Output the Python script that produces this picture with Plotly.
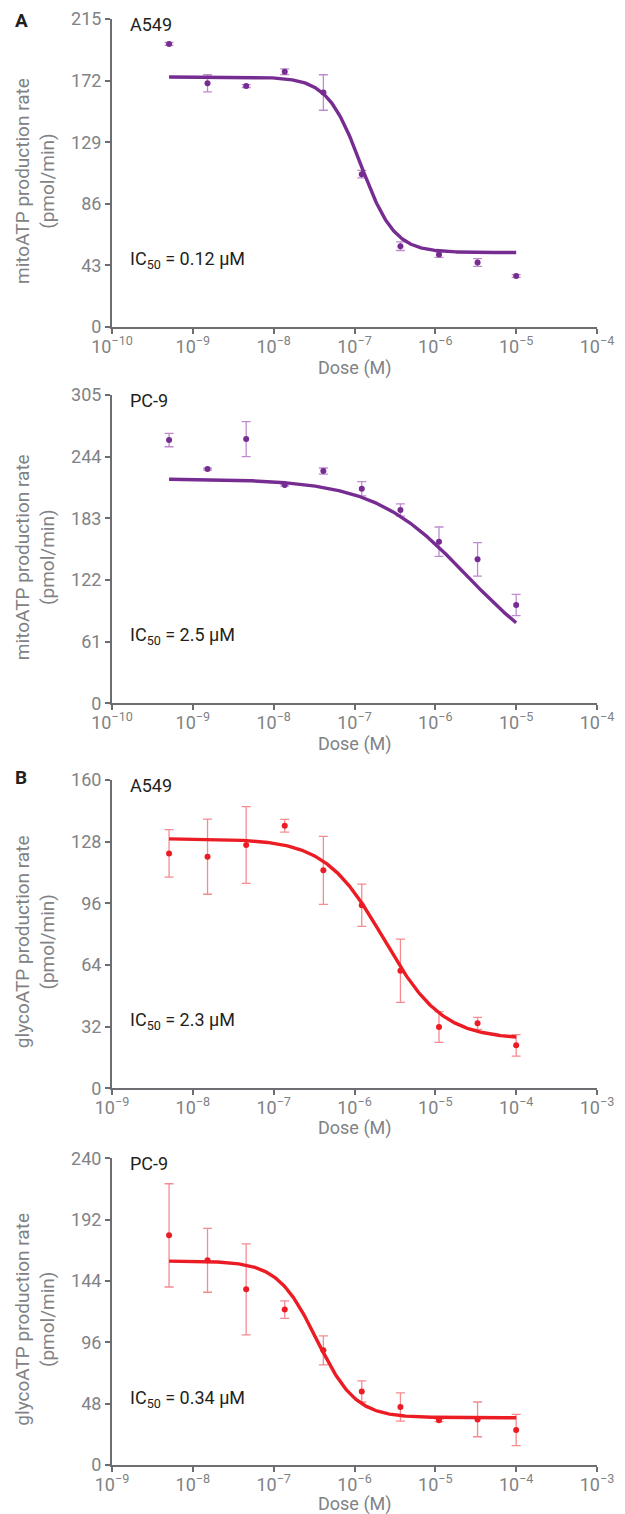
import numpy as np
import plotly.graph_objects as go

W, H = 625, 1514

# ---- data -------------------------------------------------------------
# dose series (M), 3-fold dilutions
dose_mito = [5.08e-10, 1.52e-9, 4.57e-9, 1.37e-8, 4.12e-8,
             1.23e-7, 3.70e-7, 1.11e-6, 3.33e-6, 1.00e-5]
dose_glyco = [5.08e-9, 1.52e-8, 4.57e-8, 1.37e-7, 4.12e-7,
              1.23e-6, 3.70e-6, 1.11e-5, 3.33e-5, 1.00e-4]

# mitoATP production rate (pmol/min), mean and error
mito_a549 = [197.6, 170.1, 168.2, 178.2, 163.7, 106.7, 56.4, 50.6, 45.0, 35.6]
mito_a549_err = [1.0, 6.0, 1.0, 2.0, 12.4, 2.6, 3.0, 2.0, 2.7, 1.0]
mito_pc9 = [260.4, 231.7, 261.4, 215.9, 229.8, 212.3, 191.2, 159.9, 142.4, 97.2]
mito_pc9_err = [6.6, 1.0, 17.3, 1.0, 3.0, 7.0, 6.0, 14.5, 16.6, 10.5]

# glycoATP production rate (pmol/min), mean and error
glyco_a549 = [121.9, 120.2, 126.3, 136.3, 113.1, 95.0, 61.0, 31.8, 33.7, 22.3]
glyco_a549_err = [12.3, 19.5, 19.9, 3.3, 17.6, 11.0, 16.4, 8.0, 3.1, 5.6]
glyco_pc9 = [179.7, 160.2, 137.5, 121.6, 89.7, 57.6, 45.4, 35.0, 35.7, 27.4]
glyco_pc9_err = [40.4, 25.0, 35.6, 6.9, 11.3, 8.3, 11.1, 1.0, 13.6, 12.2]

# four-parameter logistic fit parameters: top, bottom, IC50 (M), Hill slope
fit_top = [174.5, 222.0, 129.5, 159.6]
fit_bottom = [52.0, 29.4, 25.5, 37.0]
fit_ic50 = [0.12e-6, 2.5e-6, 2.3e-6, 0.34e-6]
fit_hill = [2.1, 0.75, 1.2, 1.8]
ic50_labels = ["0.12 μM", "2.5 μM", "2.3 μM", "0.34 μM"]

cell_lines = ["A549", "PC-9", "A549", "PC-9"]
y_titles = ["mitoATP production rate<br>(pmol/min)"] * 2 + \
           ["glycoATP production rate<br>(pmol/min)"] * 2
y_ticks = [[0, 43, 86, 129, 172, 215],
           [0, 61, 122, 183, 244, 305],
           [0, 32, 64, 96, 128, 160],
           [0, 48, 96, 144, 192, 240]]
x_ticks_mito = [-10, -9, -8, -7, -6, -5, -4]
x_ticks_glyco = [-9, -8, -7, -6, -5, -4, -3]

# ---- styling ----------------------------------------------------------
PURPLE = "#762c91"
PURPLE_ERR = "rgba(170, 100, 190, 0.75)"
RED = "#ec1c24"
RED_ERR = "rgba(240, 90, 98, 0.7)"
AXIS = "#6d6e71"
TICKTXT = "#808285"
BLACK = "#231f20"
FONT = "Roboto"

# panel plot areas in pixels (top, bottom) and x-title offsets below each
panel_px = [(19, 327), (395, 703.3), (780, 1088.3), (1158.3, 1465)]
xtitle_gap = [41, 41, 39.5, 38.5]
x_px = (112, 597)


def px_x(p):
    return p / W


def px_y(p):
    return 1 - p / H


def sup_label(e):
    return "10<sup>−%d</sup>" % abs(e)


panels = [
    (dose_mito, mito_a549, mito_a549_err, PURPLE, PURPLE_ERR, x_ticks_mito),
    (dose_mito, mito_pc9, mito_pc9_err, PURPLE, PURPLE_ERR, x_ticks_mito),
    (dose_glyco, glyco_a549, glyco_a549_err, RED, RED_ERR, x_ticks_glyco),
    (dose_glyco, glyco_pc9, glyco_pc9_err, RED, RED_ERR, x_ticks_glyco),
]

fig = go.Figure()
annotations = []
layout_axes = {}

for i, (dose, vals, errs, col, ecol, xt) in enumerate(panels):
    n = "" if i == 0 else str(i + 1)
    xa, ya = "x" + n, "y" + n
    top_px, bot_px = panel_px[i]

    # measured points with error bars
    fig.add_trace(go.Scatter(
        x=dose, y=vals, mode="markers", xaxis=xa, yaxis=ya,
        marker=dict(size=6, color=col),
        error_y=dict(type="data", array=errs, color=ecol,
                     thickness=1.3, width=4.5),
        showlegend=False, hoverinfo="x+y",
    ))

    # fitted dose-response curve
    xs = np.logspace(np.log10(min(dose)), np.log10(max(dose)), 300)
    T, B, C, h = fit_top[i], fit_bottom[i], fit_ic50[i], fit_hill[i]
    ys = B + (T - B) / (1 + (xs / C) ** h)
    fig.add_trace(go.Scatter(
        x=xs, y=ys, mode="lines", xaxis=xa, yaxis=ya,
        line=dict(color=col, width=3.4), showlegend=False, hoverinfo="skip",
    ))

    layout_axes["xaxis" + n] = dict(
        type="log", domain=[px_x(x_px[0]), px_x(x_px[1])],
        range=[xt[0], xt[-1]], anchor=ya,
        tickvals=[10.0 ** e for e in xt], ticktext=[sup_label(e) for e in xt],
        showline=True, linecolor=AXIS, linewidth=2,
        ticks="outside", ticklen=5, tickwidth=1.6, tickcolor=AXIS,
        ticklabelstandoff=-3,
        tickfont=dict(family=FONT, size=18, color=TICKTXT),
        showgrid=False, zeroline=False, automargin=False,
    )
    layout_axes["yaxis" + n] = dict(
        domain=[px_y(bot_px), px_y(top_px)],
        range=[0, y_ticks[i][-1]], anchor=xa,
        tickvals=y_ticks[i],
        showline=True, linecolor=AXIS, linewidth=2,
        ticks="outside", ticklen=5, tickwidth=1.6, tickcolor=AXIS,
        tickfont=dict(family=FONT, size=18, color=TICKTXT),
        showgrid=False, zeroline=False, automargin=False,
    )

    mid = (top_px + bot_px) / 2
    # y-axis title
    annotations.append(dict(
        text=y_titles[i], textangle=-90, xref="paper", yref="paper",
        x=px_x(35), y=px_y(mid + 8), xanchor="center", yanchor="middle",
        showarrow=False, font=dict(family=FONT, size=19, color=TICKTXT),
    ))
    # x-axis title
    annotations.append(dict(
        text="Dose (M)", xref="paper", yref="paper",
        x=px_x((x_px[0] + x_px[1]) / 2), y=px_y(bot_px + xtitle_gap[i]),
        xanchor="center", yanchor="middle", showarrow=False, borderpad=0,
        font=dict(family=FONT, size=18, color=TICKTXT),
    ))
    # cell line label
    annotations.append(dict(
        text=cell_lines[i], xref="paper", yref="paper",
        x=px_x(128), y=px_y(top_px + 5), xanchor="left", yanchor="middle",
        showarrow=False, font=dict(family=FONT, size=18, color=BLACK),
    ))
    # IC50 label
    annotations.append(dict(
        text="IC<sub>50</sub> = " + ic50_labels[i], xref="paper", yref="paper",
        x=px_x(128), y=px_y(top_px + 241), xanchor="left", yanchor="middle",
        showarrow=False, font=dict(family=FONT, size=18, color=BLACK),
    ))

# panel letters
for letter, ypix in (("A", 21), ("B", 777)):
    annotations.append(dict(
        text="<b>%s</b>" % letter, xref="paper", yref="paper",
        x=px_x(13), y=px_y(ypix), xanchor="left", yanchor="middle",
        showarrow=False, font=dict(family=FONT, size=19, color=BLACK),
    ))

fig.update_layout(
    width=W, height=H,
    margin=dict(l=0, r=0, t=0, b=0),
    paper_bgcolor="white", plot_bgcolor="white",
    annotations=annotations,
    font=dict(family=FONT),
    **layout_axes,
)

fig.write_html("out.html")
